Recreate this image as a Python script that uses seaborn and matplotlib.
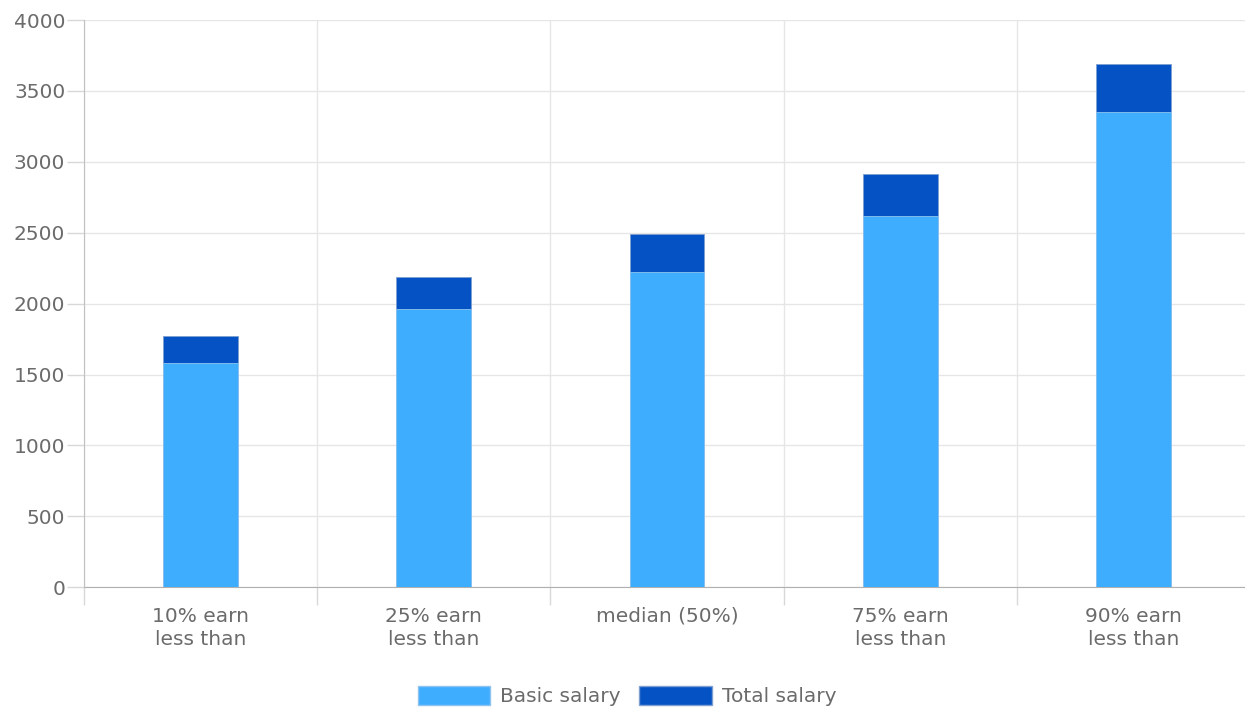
import seaborn as sns
import matplotlib.pyplot as plt
from matplotlib.patches import Patch
import numpy as np

# values
categories = ["10% earn\nless than", "25% earn\nless than", "median (50%)",
              "75% earn\nless than", "90% earn\nless than"]
basic_salary = [1583, 1962, 2221, 2618, 3349]
total_salary = [1774, 2186, 2489, 2914, 3690]
y_ticks = [0, 500, 1000, 1500, 2000, 2500, 3000, 3500, 4000]

light_blue = "#3fadfe"
dark_blue = "#0552c4"
text_grey = "#6b6b6b"
fsize = 14.5

sns.set_style("white")
plt.rcParams['font.family'] = ['DejaVu Sans']

fig = plt.figure(figsize=(12.45, 7.09), dpi=100)
ax = fig.add_axes([84 / 1245, 121.7 / 709, 1166 / 1245, 567.3 / 709])

# total drawn first, basic drawn on top of it
sns.barplot(x=categories, y=total_salary, color=dark_blue, saturation=1,
            width=0.32, ax=ax, zorder=3, edgecolor="#7f9fd0", linewidth=0.6)
sns.barplot(x=categories, y=basic_salary, color=light_blue, saturation=1,
            width=0.32, ax=ax, zorder=4, edgecolor="#8fc4f0", linewidth=0.6)

ax.set_ylim(0, 4000)
ax.set_xlim(-0.5, len(categories) - 0.5)
ax.set_yticks(y_ticks)
ax.set_xticks(np.arange(len(categories)))
ax.set_xticklabels(categories, multialignment="center", linespacing=1.3)
ax.set_xticks(np.arange(len(categories) + 1) - 0.5, minor=True)

ax.grid(True, axis="y", color="#e6e6e6", linewidth=1, zorder=0)
ax.grid(True, axis="x", which="minor", color="#e6e6e6", linewidth=1, zorder=0)
ax.set_axisbelow(True)

ax.tick_params(axis="y", left=True, length=12.5, width=1, color="#d8d8d8", pad=1,
               labelsize=fsize, labelcolor=text_grey)
ax.tick_params(axis="x", which="major", bottom=True, length=0, pad=14,
               labelsize=fsize, labelcolor=text_grey)
ax.tick_params(axis="x", which="minor", bottom=True, length=13, width=1, color="#d8d8d8")

for side in ["top", "right"]:
    ax.spines[side].set_visible(False)
ax.spines["left"].set_color("#c0c0c0")
ax.spines["bottom"].set_color("#b0b0b0")
ax.spines["left"].set_zorder(5)

handles = [Patch(facecolor=light_blue, edgecolor="#8fc4f0", label="Basic salary"),
           Patch(facecolor=dark_blue, edgecolor="#7f9fd0", label="Total salary")]
fig.legend(handles=handles, loc="center", bbox_to_anchor=(627 / 1245, 1 - 696 / 709),
           ncol=2, frameon=False, fontsize=fsize, labelcolor=text_grey,
           handlelength=3.6, handleheight=1.1, handletextpad=0.5, columnspacing=0.9)

ax.set_xlabel("")
ax.set_ylabel("")
plt.savefig("out.png", dpi=100)
